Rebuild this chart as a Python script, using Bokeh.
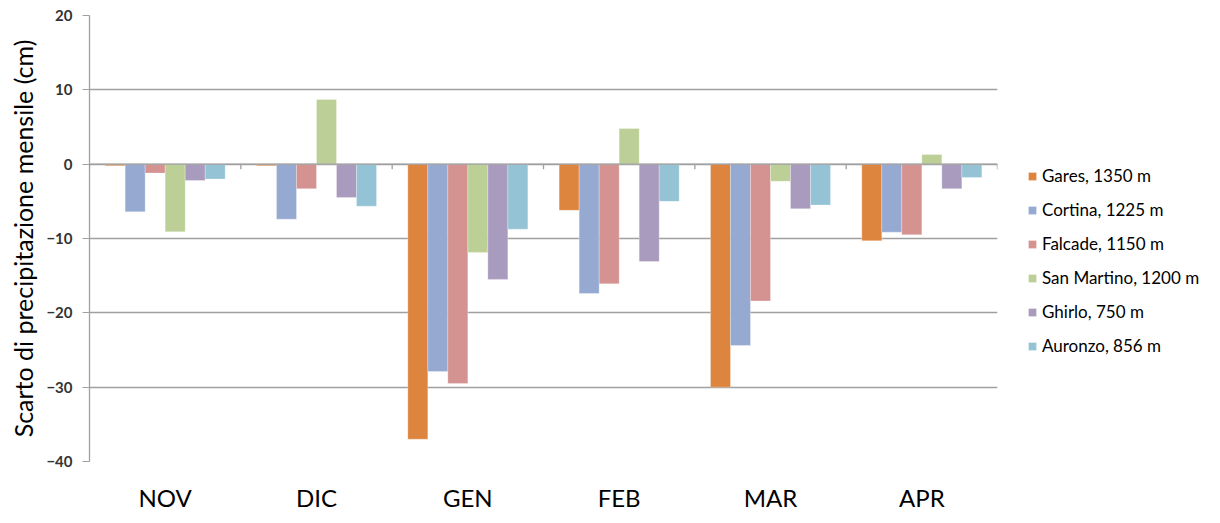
from bokeh.plotting import figure
from bokeh.models import (FixedTicker, Span, Legend, LegendItem, ColumnDataSource, Range1d)
from bokeh.embed import file_html
from bokeh.resources import INLINE

months = ["NOV", "DIC", "GEN", "FEB", "MAR", "APR"]
stations = ["Gares, 1350 m", "Cortina, 1225 m", "Falcade, 1150 m",
            "San Martino, 1200 m", "Ghirlo, 750 m", "Auronzo, 856 m"]
gares = [-0.2, -0.2, -37.0, -6.2, -30.0, -10.3]
cortina = [-6.4, -7.4, -27.9, -17.4, -24.4, -9.15]
falcade = [-1.2, -3.3, -29.5, -16.1, -18.4, -9.5]
san_martino = [-9.1, 8.7, -11.9, 4.8, -2.3, 1.3]
ghirlo = [-2.2, -4.5, -15.5, -13.1, -6.0, -3.3]
auronzo = [-2.0, -5.65, -8.75, -5.0, -5.5, -1.8]
series = [gares, cortina, falcade, san_martino, ghirlo, auronzo]
colors = ["#DD843E", "#95A9D1", "#D49291", "#BBCF96", "#A99BBD", "#93C3D4"]
y_ticks = [20, 10, 0, -10, -20, -30, -40]

FONT = "Lato"
GRID = "#A0A0A0"

p = figure(frame_width=908, frame_height=446, output_backend="svg", toolbar_location=None,
           x_range=Range1d(0, 6), y_range=Range1d(-40, 20),
           min_border_left=89, min_border_right=0, min_border_top=15,
           min_border_bottom=46)
p.outline_line_color = None
p.background_fill_color = "white"
p.border_fill_color = "white"

bw = 0.1322
items = []
for j, (vals, name, col) in enumerate(zip(series, stations, colors)):
    xs = [i + 0.5 + (j - 2.5) * bw for i in range(len(months))]
    src = ColumnDataSource(dict(x=xs, top=vals))
    r = p.vbar(x="x", top="top", bottom=0, width=bw, source=src,
               fill_color=col, line_color="white", line_alpha=0.35, line_width=0.8)
    items.append(LegendItem(label=name, renderers=[r]))

# zero (category) axis line with boundary ticks
p.add_layout(Span(location=0, dimension="width", line_color=GRID, line_width=1.3))
bx = list(range(len(months) + 1))
p.segment(x0=bx, x1=bx, y0=[0] * len(bx), y1=[-0.7] * len(bx),
          line_color=GRID, line_width=1.3)

# y axis
p.yaxis.ticker = FixedTicker(ticks=y_ticks)
p.yaxis.axis_label = "Scarto di precipitazione mensile (cm)"
p.yaxis.axis_label_text_font = FONT
p.yaxis.axis_label_text_font_size = "25px"
p.yaxis.axis_label_text_font_style = "normal"
p.yaxis.axis_label_text_color = "black"
p.yaxis.axis_label_standoff = 5
p.yaxis.major_label_text_font = FONT
p.yaxis.major_label_text_font_size = "15px"
p.yaxis.major_label_text_font_style = "bold"
p.yaxis.major_label_text_color = "#333333"
p.yaxis.axis_line_color = GRID
p.yaxis.axis_line_width = 1.3
p.yaxis.major_tick_line_color = GRID
p.yaxis.major_tick_in = 0
p.yaxis.major_tick_out = 7
p.yaxis.minor_tick_line_color = None
p.yaxis.major_label_standoff = 10

# x axis (labels only)
p.xaxis.ticker = FixedTicker(ticks=[i + 0.5 for i in range(len(months))])
p.xaxis.major_label_overrides = {i + 0.5: m for i, m in enumerate(months)}
p.xaxis.major_label_text_font = FONT
p.xaxis.major_label_text_font_size = "24px"
p.xaxis.major_label_text_color = "black"
p.xaxis.axis_line_color = None
p.xaxis.major_tick_line_color = None
p.xaxis.minor_tick_line_color = None
p.xaxis.major_label_standoff = 15

p.xgrid.grid_line_color = None
p.ygrid.ticker = FixedTicker(ticks=y_ticks)
p.ygrid.grid_line_color = GRID
p.ygrid.grid_line_width = 1.3

legend = Legend(items=items, location=(30, 105), margin=0, padding=0,
                border_line_color=None, background_fill_alpha=0,
                glyph_width=10, glyph_height=10, label_height=20, spacing=13,
                label_standoff=5, label_text_font=FONT,
                label_text_font_size="17px", label_text_color="black")
p.add_layout(legend, "right")

open("out.html", "w").write(file_html(p, INLINE))
